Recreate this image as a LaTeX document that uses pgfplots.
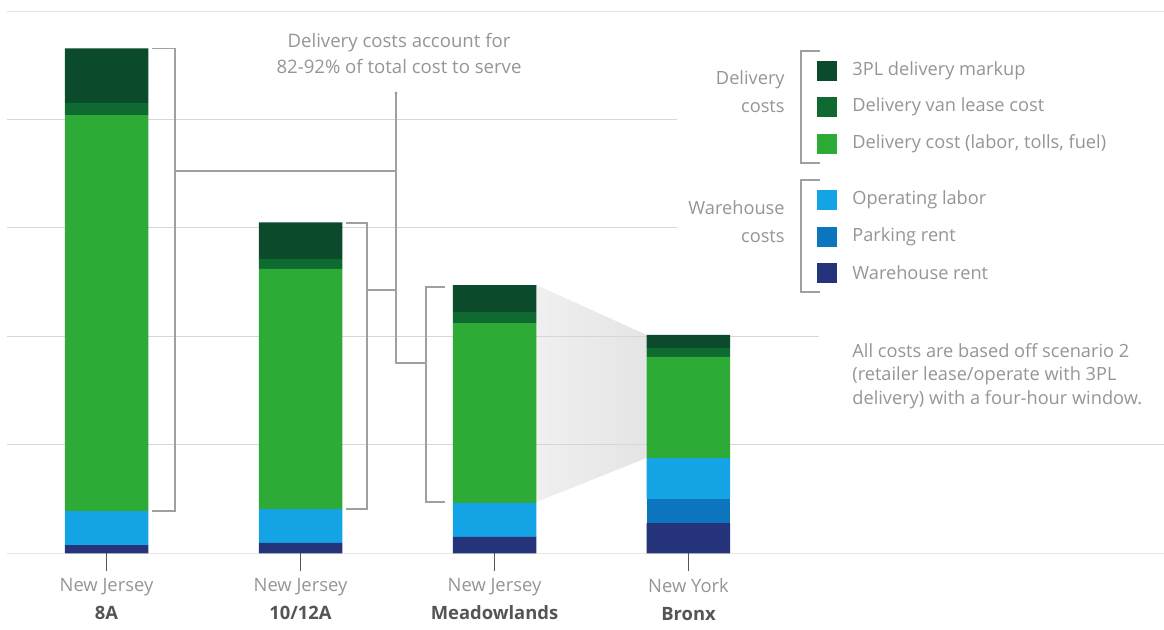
\documentclass[border=0pt]{standalone}
\usepackage{fontspec}
\setmainfont{Open Sans}
\usepackage{pgfplots}
\pgfplotsset{compat=1.18}
\pgfdeclarelayer{bg}
\pgfsetlayers{bg,main}
\definecolor{markup}{HTML}{0B4A2B}
\definecolor{van}{HTML}{0F6A32}
\definecolor{dcost}{HTML}{2EAA36}
\definecolor{oplabor}{HTML}{14A4E6}
\definecolor{parking}{HTML}{0B76BE}
\definecolor{whrent}{HTML}{25337A}
\definecolor{txt}{HTML}{959595}
\definecolor{btxt}{HTML}{555555}
\definecolor{brk}{HTML}{A0A0A0}
\definecolor{grid}{HTML}{D6D6D6}
\begin{document}
\begin{tikzpicture}[font=\fontsize{9.1}{11}\selectfont]
\begin{axis}[
  scale only axis, width=582pt, height=276.75pt,
  xmin=-0.549, xmax=5.451, ymin=0, ymax=51.01,
  ybar stacked, bar width=41.75pt,
  axis x line*=bottom, axis y line=none,
  x axis line style={draw=none},
  ytick=\empty,
  xtick={0,1,2,3},
  xticklabels={{New Jersey\\\textbf{\color{btxt}8A}},{New Jersey\\\textbf{\color{btxt}10/12A}},{New Jersey\\\textbf{\color{btxt}Meadowlands}},{New York\\\textbf{\color{btxt}Bronx}}},
  xticklabel style={align=center, text=txt, font=\fontsize{9.2}{14}\selectfont},
  tick align=outside, xtick pos=bottom,
  major tick length=9pt,
  every tick/.style={draw=btxt, line width=0.6pt},
  clip=false,
]
\addplot[fill=whrent, draw=none] coordinates {(0,0.78) (1,0.97) (2,1.52) (3,2.81)};
\addplot[fill=parking, draw=none] coordinates {(0,0) (1,0) (2,0) (3,2.21)};
\addplot[fill=oplabor, draw=none] coordinates {(0,3.13) (1,3.13) (2,3.13) (3,3.78)};
\addplot[fill=dcost, draw=none] coordinates {(0,36.5) (1,22.12) (2,16.59) (3,9.31)};
\addplot[fill=van, draw=none] coordinates {(0,1.11) (1,0.9) (2,1.01) (3,0.83)};
\addplot[fill=markup, draw=none] coordinates {(0,5.04) (1,3.4) (2,2.49) (3,1.20)};
\coordinate (TL) at (rel axis cs:0,1);
\end{axis}
% background: grid lines and zoom shading
\begin{pgfonlayer}{bg}
\begin{scope}[shift={(TL)}, x=0.5pt, y=-0.5pt]
\shade[left color=gray!12, right color=gray!21] (536.5,285) -- (646.7,335) -- (646.7,458) -- (536.5,502) -- cycle;
\draw[grid!70, line width=0.5pt] (7,11.25) -- (1164,11.25);
\draw[grid, line width=0.5pt] (7,119.5) -- (677,119.5);
\draw[grid, line width=0.5pt] (7,228) -- (677,228);
\draw[grid, line width=0.5pt] (7,336.5) -- (819,336.5);
\draw[grid, line width=0.5pt] (7,445) -- (1164,445);
\draw[grid!60, line width=0.5pt] (7,553.5) -- (1164,553.5);
\end{scope}
\end{pgfonlayer}
\begin{scope}[shift={(TL)}, x=0.5pt, y=-0.5pt]
% brackets
\draw[brk, line width=0.6pt] (152,48.5) -- (175,48.5) -- (175,511) -- (152,511);
\draw[brk, line width=0.6pt] (175,171) -- (396,171);
\draw[brk, line width=0.6pt] (396,93) -- (396,363) -- (426,363);
\fill[brk] (396,93) circle (1.6);
\draw[brk, line width=0.6pt] (346,223) -- (367,223) -- (367,509) -- (346,509);
\draw[brk, line width=0.6pt] (367,290) -- (396,290);
\draw[brk, line width=0.6pt] (445,287) -- (426,287) -- (426,502) -- (445,502);
% annotation
\node[text=txt, align=center, font=\fontsize{9.3}{13}\selectfont] at (399,53) {Delivery costs account for\\82-92\% of total cost to serve};
% legend
\draw[brk, line width=0.6pt] (820,51) -- (801,51) -- (801,163) -- (820,163);
\draw[brk, line width=0.6pt] (820,180) -- (801,180) -- (801,292) -- (820,292);
\node[text=txt, anchor=east, inner sep=0pt] at (785,80) {Delivery};
\node[text=txt, anchor=east, inner sep=0pt] at (785,107) {costs};
\node[text=txt, anchor=east, inner sep=0pt] at (785,208) {Warehouse};
\node[text=txt, anchor=east, inner sep=0pt] at (785,237) {costs};
\fill[markup] (817,61) rectangle (837,81);
\fill[van] (817,97) rectangle (837,117);
\fill[dcost] (817,134) rectangle (837,154);
\fill[oplabor] (817,190) rectangle (837,210);
\fill[parking] (817,227) rectangle (837,247);
\fill[whrent] (817,263) rectangle (837,283);
\node[text=txt, anchor=west, inner sep=0pt] at (852,71) {3PL delivery markup};
\node[text=txt, anchor=west, inner sep=0pt] at (852,107) {Delivery van lease cost};
\node[text=txt, anchor=west, inner sep=0pt] at (852,144) {Delivery cost (labor, tolls, fuel)};
\node[text=txt, anchor=west, inner sep=0pt] at (852,200) {Operating labor};
\node[text=txt, anchor=west, inner sep=0pt] at (852,237) {Parking rent};
\node[text=txt, anchor=west, inner sep=0pt] at (852,273) {Warehouse rent};
% note
\node[text=txt, anchor=north west, align=left, inner sep=0pt, font=\fontsize{9.1}{11.75}\selectfont] at (852,343) {All costs are based off scenario 2\\(retailer lease/operate with 3PL\\delivery) with a four-hour window.};
\end{scope}
\pgfresetboundingbox
\path[use as bounding box] (TL) rectangle ++(582pt,-315pt);
\end{tikzpicture}
\end{document}
